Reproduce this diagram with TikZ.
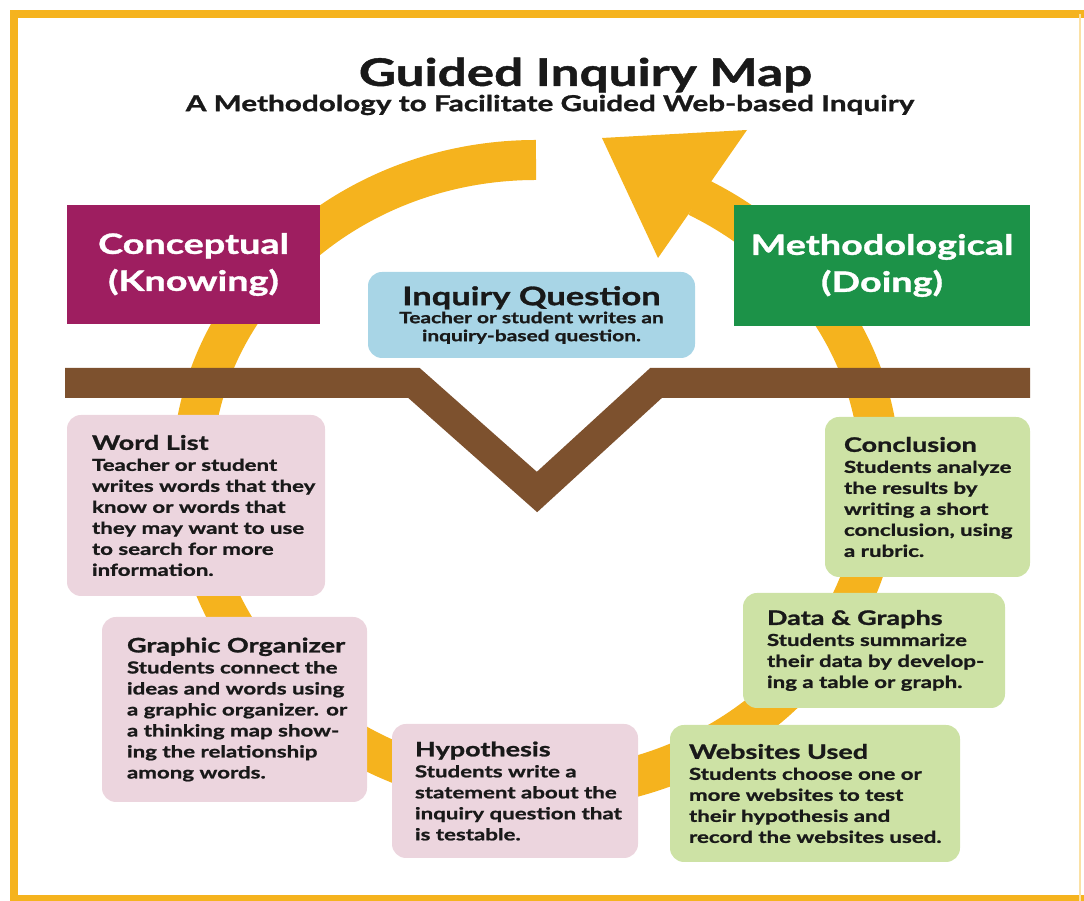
\documentclass[tikz,border=0pt]{standalone}
\usepackage{fontspec}
\setmainfont{Lato}[FakeStretch=1.35, BoldFeatures={FakeBold=1.2}]
\usepackage{xcolor}
\usetikzlibrary{arrows.meta}
\usetikzlibrary{shapes}
\usetikzlibrary{positioning}

\definecolor{ringgold}{RGB}{245,179,30}
\definecolor{barkbrown}{RGB}{125,81,46}
\definecolor{plum}{RGB}{158,30,96}
\definecolor{leafgreen}{RGB}{28,146,72}
\definecolor{skyblue}{RGB}{168,213,230}
\definecolor{rosecard}{RGB}{236,213,222}
\definecolor{sagecard}{RGB}{205,226,165}
\definecolor{ink}{RGB}{25,25,25}

\tikzset{
  card/.style={rounded corners=14pt, inner sep=0pt},
  cardtext/.style={inner sep=0pt, align=left, text=ink, font=\bfseries\fontsize{16.5}{21}\selectfont},
  sidebox/.style={inner sep=0pt, text=white, align=center, font=\bfseries\fontsize{28}{37}\selectfont},
}
\newcommand{\cardhead}[1]{{\fontsize{20}{21}\selectfont #1}}

\begin{document}
\begin{tikzpicture}[x=1pt,y=1pt]
  \useasboundingbox (0,0) rectangle (1084,901);
  % frame
  \draw[ringgold, line width=8pt] (14,0) -- (14,887) -- (1084,887);
  \draw[ringgold, line width=6pt] (10,3) -- (1084,3);
  \draw[ringgold!40, line width=2pt] (1080,887) -- (1080,0);

  \node[font=\bfseries\fontsize{38}{44}\selectfont, text=ink] (title) at (585.5,826) {Guided Inquiry Map};
  \node[font=\bfseries\fontsize{22}{26}\selectfont, text=ink] (subtitle) at (550,796) {A Methodology to Facilitate Guided Web-based Inquiry};

  % the cycle and its arrow
  \draw[ringgold, line width=40pt] (536,741) arc[start angle=90, end angle=422, x radius=344pt, y radius=315pt];
  \fill[ringgold] (602,763) -- (747,771) -- (658,643) -- cycle;

  % divider between question and steps
  \draw[barkbrown, line width=30pt, line join=miter] (65,518) -- (414,518) -- (537,409) -- (656,518) -- (1030,518);

  \node[sidebox, fill=plum, minimum width=253pt, minimum height=119pt] (conceptual) at (193.5,636.5) {Conceptual\\(Knowing)};
  \node[sidebox, fill=leafgreen, minimum width=296pt, minimum height=121pt] (methodological) at (882,635.5) {Methodological\\(Doing)};

  \node[card, fill=skyblue, minimum width=327pt, minimum height=86pt, align=center, text=ink,
        font=\bfseries\fontsize{15.5}{18}\selectfont] (question) at (531.5,586)
        {{\fontsize{25.5}{27}\selectfont Inquiry Question}\\Teacher or student writes an\\inquiry-based question.};

  \foreach \n/\x/\y/\w/\h/\c in {wordlist/196/395.5/258/181/rosecard,
    organizer/234.5/191.5/265/185/rosecard,
    hypothesis/515/110/246/134/rosecard,
    websites/815/107.5/290/137/sagecard,
    datagraphs/874/250.5/262/115/sagecard,
    conclusion/927.5/404/205/160/sagecard}
  {\node[card, fill=\c, minimum width=\w pt, minimum height=\h pt] (\n) at (\x,\y) {};}

  \node[cardtext, right=25pt of wordlist.west] (wordlist-text) {\cardhead{Word List}\\Teacher or student\\writes words that they\\know or words that\\they may want to use\\to search for more\\information.};
  \node[cardtext, right=25pt of organizer.west] (organizer-text) {\cardhead{Graphic Organizer}\\Students connect the\\ideas and words using\\a graphic organizer. or\\a thinking map show-\\ing the relationship\\among words.};
  \node[cardtext, right=23pt of hypothesis.west] (hypothesis-text) {\cardhead{Hypothesis}\\Students write a\\statement about the\\inquiry question that\\is testable.};
  \node[cardtext, right=19pt of websites.west] (websites-text) {\cardhead{Websites Used}\\Students choose one or\\more websites to test\\their hypothesis and\\record the websites used.};
  \node[cardtext, right=24pt of datagraphs.west] (datagraphs-text) {\cardhead{Data \& Graphs}\\Students summarize\\their data by develop-\\ing a table or graph.};
  \node[cardtext, right=19pt of conclusion.west] (conclusion-text) {\cardhead{Conclusion}\\Students analyze\\the results by\\writing a short\\conclusion, using\\a rubric.};
\end{tikzpicture}
\end{document}
